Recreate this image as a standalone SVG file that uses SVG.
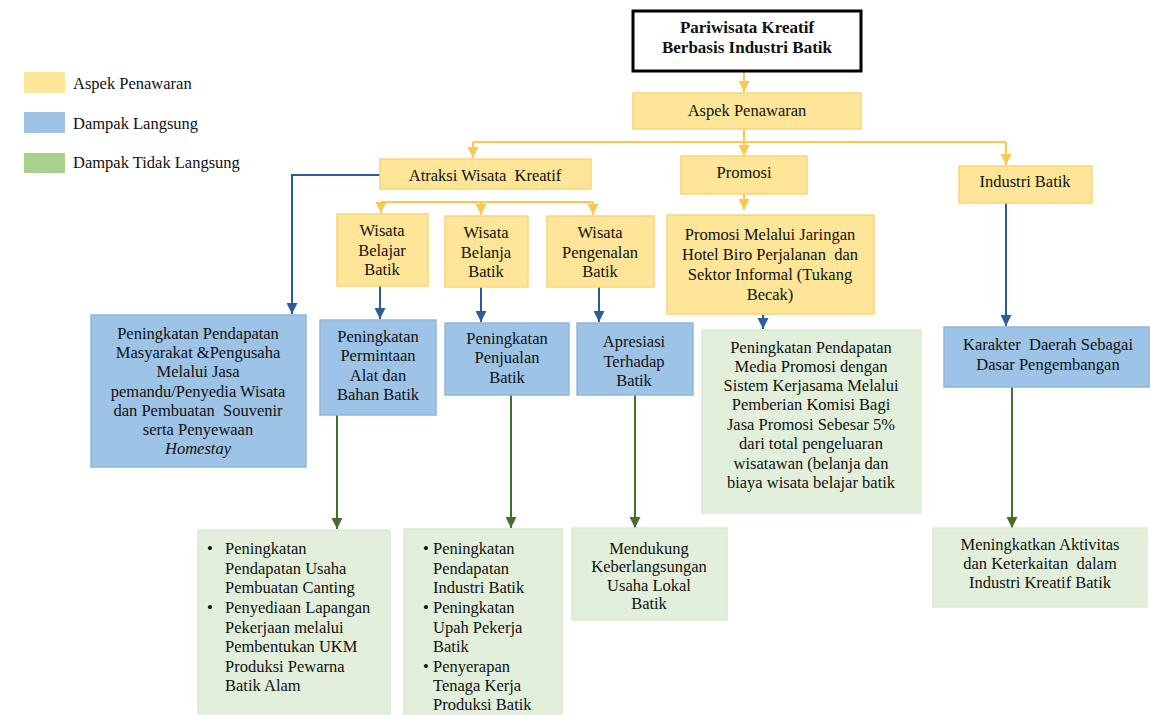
<svg xmlns="http://www.w3.org/2000/svg" width="1150" height="715" viewBox="0 0 1150 715" font-family="'Liberation Serif', Tinos, 'Times New Roman', 'DejaVu Serif', serif">
<style>
text{font-family:'Liberation Serif', Tinos, 'Times New Roman', 'DejaVu Serif', serif;font-size:16.5px;fill:#111;}
.c{text-anchor:middle;}
.pre{white-space:pre;}
.ttl{font-weight:bold;font-size:17px;}
.y{fill:#FFE597;stroke:#F9D47A;stroke-width:1.5;}
.b{fill:#9DC3E6;stroke:#8FB7DE;stroke-width:1.5;}
.g{fill:#E2EFDA;stroke:#DCEAD3;stroke-width:1.5;}
.ly{fill:none;stroke:#F8C850;stroke-width:2;}
.lb{fill:none;stroke:#2C5C9C;stroke-width:2;}
.lg{fill:none;stroke:#466F2C;stroke-width:2;}
</style>
<defs>
<marker id="ay" viewBox="0 0 10 10" refX="10" refY="5" markerWidth="11" markerHeight="11" markerUnits="userSpaceOnUse" orient="auto"><path d="M0,0 L10,5 L0,10 z" fill="#F8C850"/></marker>
<marker id="ab" viewBox="0 0 10 10" refX="10" refY="5" markerWidth="11" markerHeight="11" markerUnits="userSpaceOnUse" orient="auto"><path d="M0,0 L10,5 L0,10 z" fill="#2C5C9C"/></marker>
<marker id="ag" viewBox="0 0 10 10" refX="10" refY="5" markerWidth="11" markerHeight="11" markerUnits="userSpaceOnUse" orient="auto"><path d="M0,0 L10,5 L0,10 z" fill="#466F2C"/></marker>
</defs>
<rect width="1150" height="715" fill="#fff"/>

<g id="legend">
<rect x="24" y="72" width="41" height="21" fill="#FFE699"/>
<text x="73" y="89">Aspek Penawaran</text>
<rect x="24" y="112" width="41" height="21" fill="#9DC3E6"/>
<text x="73" y="129">Dampak Langsung</text>
<rect x="24" y="153" width="41" height="20" fill="#A9D18E"/>
<text x="73" y="168">Dampak Tidak Langsung</text>
</g>

<g id="connectors">
<path class="ly" d="M744,72 V92" marker-end="url(#ay)"/>
<path class="ly" d="M744,129 V142 M473,142 H1006" />
<path class="ly" d="M473,142 V158" marker-end="url(#ay)"/>
<path class="ly" d="M744,142 V156" marker-end="url(#ay)"/>
<path class="ly" d="M1006,142 V165" marker-end="url(#ay)"/>
<path class="ly" d="M744,194 V210" marker-end="url(#ay)"/>
<path class="ly" d="M381,202 H593"/>
<path class="ly" d="M381,202 V213" marker-end="url(#ay)"/>
<path class="ly" d="M481,202 V215" marker-end="url(#ay)"/>
<path class="ly" d="M593,202 V215" marker-end="url(#ay)"/>
<path class="lb" d="M380,175 H292 V314" marker-end="url(#ab)"/>
<path class="lb" d="M380,286 V319" marker-end="url(#ab)"/>
<path class="lb" d="M481,287 V322" marker-end="url(#ab)"/>
<path class="lb" d="M599,287 V322" marker-end="url(#ab)"/>
<path class="lb" d="M763,315 V329" marker-end="url(#ab)"/>
<path class="lb" d="M1006,203 V326" marker-end="url(#ab)"/>
<path class="lg" d="M337,415 V529" marker-end="url(#ag)"/>
<path class="lg" d="M511,395 V528" marker-end="url(#ag)"/>
<path class="lg" d="M635,395 V528" marker-end="url(#ag)"/>
<path class="lg" d="M1012,387 V528" marker-end="url(#ag)"/>
</g>

<g id="n-title">
<rect x="633" y="11" width="228" height="60" fill="#fff" stroke="#000" stroke-width="3"/>
<text class="c ttl" x="747" y="33">Pariwisata Kreatif</text>
<text class="c ttl" x="747" y="53">Berbasis Industri Batik</text>
</g>
<g id="n-aspek">
<rect class="y" x="633" y="93" width="228" height="36"/>
<text class="c" x="747" y="116">Aspek Penawaran</text>
</g>
<g id="n-atraksi">
<rect class="y" x="380" y="159" width="211" height="30"/>
<text class="c pre" x="485" y="181">Atraksi Wisata  Kreatif</text>
</g>
<g id="n-promosi">
<rect class="y" x="681" y="156" width="126" height="38"/>
<text class="c" x="744" y="178">Promosi</text>
</g>
<g id="n-industri">
<rect class="y" x="959" y="166" width="133" height="37"/>
<text class="c" x="1025" y="187">Industri Batik</text>
</g>
<g id="n-belajar">
<rect class="y" x="337" y="214" width="91" height="72"/>
<text class="c" x="382" y="236">Wisata</text>
<text class="c" x="382" y="256">Belajar</text>
<text class="c" x="382" y="275">Batik</text>
</g>
<g id="n-belanja">
<rect class="y" x="445" y="216" width="83" height="71"/>
<text class="c" x="486" y="238">Wisata</text>
<text class="c" x="486" y="258">Belanja</text>
<text class="c" x="486" y="277">Batik</text>
</g>
<g id="n-pengenalan">
<rect class="y" x="547" y="216" width="107" height="71"/>
<text class="c" x="600" y="238">Wisata</text>
<text class="c" x="600" y="258">Pengenalan</text>
<text class="c" x="600" y="277">Batik</text>
</g>
<g id="n-promosi-jaringan">
<rect class="y" x="667" y="215" width="207" height="99"/>
<text class="c pre" x="770" y="240">Promosi Melalui Jaringan</text>
<text class="c pre" x="770" y="260">Hotel Biro Perjalanan  dan</text>
<text class="c pre" x="770" y="280">Sektor Informal (Tukang</text>
<text class="c pre" x="770" y="300">Becak)</text>
</g>
<g id="n-pendapatan-masyarakat">
<rect class="b" x="91" y="315" width="215" height="152"/>
<text class="c" x="198" y="339">Peningkatan Pendapatan</text>
<text class="c" x="198" y="358">Masyarakat &amp;Pengusaha</text>
<text class="c" x="198" y="377">Melalui Jasa</text>
<text class="c" x="198" y="397">pemandu/Penyedia Wisata</text>
<text class="c pre" x="198" y="416">dan Pembuatan  Souvenir</text>
<text class="c" x="198" y="435">serta Penyewaan</text>
<text class="c" x="198" y="454" font-style="italic">Homestay</text>
</g>
<g id="n-permintaan">
<rect class="b" x="320" y="320" width="116" height="95"/>
<text class="c" x="378" y="342">Peningkatan</text>
<text class="c" x="378" y="361">Permintaan</text>
<text class="c" x="378" y="381">Alat dan</text>
<text class="c" x="378" y="400">Bahan Batik</text>
</g>
<g id="n-penjualan">
<rect class="b" x="445" y="323" width="124" height="72"/>
<text class="c" x="507" y="344">Peningkatan</text>
<text class="c" x="507" y="363">Penjualan</text>
<text class="c" x="507" y="383">Batik</text>
</g>
<g id="n-apresiasi">
<rect class="b" x="577" y="323" width="116" height="72"/>
<text class="c" x="634" y="347">Apresiasi</text>
<text class="c" x="634" y="367">Terhadap</text>
<text class="c" x="634" y="386">Batik</text>
</g>
<g id="n-media-promosi">
<rect class="g" x="702" y="330" width="219" height="183"/>
<text class="c" x="811" y="353">Peningkatan Pendapatan</text>
<text class="c" x="811" y="372">Media Promosi dengan</text>
<text class="c" x="811" y="391">Sistem Kerjasama Melalui</text>
<text class="c" x="811" y="410">Pemberian Komisi Bagi</text>
<text class="c" x="811" y="430">Jasa Promosi Sebesar 5%</text>
<text class="c" x="811" y="449">dari total pengeluaran</text>
<text class="c" x="811" y="469">wisatawan (belanja dan</text>
<text class="c" x="811" y="488">biaya wisata belajar batik</text>
</g>
<g id="n-karakter">
<rect class="b" x="944" y="327" width="205" height="60"/>
<text class="c pre" x="1048" y="350">Karakter  Daerah Sebagai</text>
<text class="c" x="1048" y="370">Dasar Pengembangan</text>
</g>
<g id="n-canting">
<rect class="g" x="198" y="530" width="192" height="184"/>
<text x="207" y="554">•</text><text x="225" y="554">Peningkatan</text>
<text x="225" y="574">Pendapatan Usaha</text>
<text x="225" y="593">Pembuatan Canting</text>
<text x="207" y="613">•</text><text x="225" y="613">Penyediaan Lapangan</text>
<text x="225" y="633">Pekerjaan melalui</text>
<text x="225" y="652">Pembentukan UKM</text>
<text x="225" y="672">Produksi Pewarna</text>
<text x="225" y="691">Batik Alam</text>
</g>
<g id="n-industri-batik-dampak">
<rect class="g" x="404" y="529" width="158" height="186"/>
<text x="423" y="554">•</text><text x="433" y="554">Peningkatan</text>
<text x="433" y="574">Pendapatan</text>
<text x="433" y="593">Industri Batik</text>
<text x="423" y="613">•</text><text x="433" y="613">Peningkatan</text>
<text x="433" y="633">Upah Pekerja</text>
<text x="433" y="652">Batik</text>
<text x="423" y="672">•</text><text x="433" y="672">Penyerapan</text>
<text x="433" y="691">Tenaga Kerja</text>
<text x="433" y="710">Produksi Batik</text>
</g>
<g id="n-mendukung">
<rect class="g" x="572" y="528" width="155" height="92"/>
<text class="c" x="649" y="554">Mendukung</text>
<text class="c" x="649" y="572">Keberlangsungan</text>
<text class="c" x="649" y="591">Usaha Lokal</text>
<text class="c" x="649" y="609">Batik</text>
</g>
<g id="n-meningkatkan">
<rect class="g" x="933" y="528" width="214" height="79"/>
<text class="c" x="1040" y="550">Meningkatkan Aktivitas</text>
<text class="c pre" x="1040" y="569">dan Keterkaitan  dalam</text>
<text class="c" x="1040" y="588">Industri Kreatif Batik</text>
</g>
</svg>
